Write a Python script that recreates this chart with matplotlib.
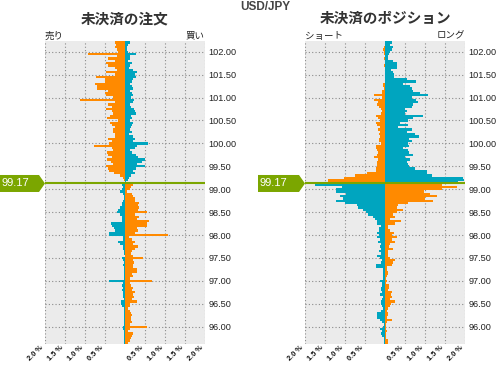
import numpy as np
import matplotlib
matplotlib.use('Agg')
import matplotlib.pyplot as plt
from matplotlib.patches import Polygon
from matplotlib.transforms import blended_transform_factory

# price levels (bin centres), current price line sits between 99.15 and 99.10
prices_above = np.round(np.arange(102.20, 99.149, -0.05), 2)   # 62 bins
prices_below = np.round(np.arange(99.10, 95.649, -0.05), 2)    # 70 bins
price_line = 99.125
price_label = '99.17'

# open orders (%)
orders_above_sell = [0.25, 0.22, 0.25, 0.21, 0.17, 0.92, 0.21, 0.42, 0.25, 0.48,
                     0.42, 0.25, 0.21, 0.48, 0.25, 0.73, 0.50, 0.50, 0.75, 0.71,
                     0.69, 0.42, 0.50, 0.48, 0.30, 1.13, 0.25, 0.42, 0.33, 0.48,
                     0.33, 0.29, 0.38, 0.44, 0.17, 0.38, 0.33, 0.25, 0.31, 0.29,
                     0.25, 0.25, 0.42, 0.33, 0.39, 0.78, 0.33, 0.29, 0.44, 0.42,
                     0.33, 0.44, 0.36, 0.29, 0.48, 0.42, 0.39, 0.28, 0.13, 0.06,
                     0.03, 0.01]
orders_above_buy = [0.13, 0.08, 0.06, 0.06, 0.08, 0.28, 0.13, 0.13, 0.08, 0.17,
                    0.13, 0.11, 0.21, 0.29, 0.25, 0.28, 0.21, 0.17, 0.13, 0.17,
                    0.19, 0.13, 0.17, 0.21, 0.15, 0.23, 0.21, 0.13, 0.15, 0.23,
                    0.25, 0.28, 0.14, 0.17, 0.13, 0.21, 0.17, 0.14, 0.13, 0.17,
                    0.11, 0.21, 0.25, 0.21, 0.57, 0.29, 0.25, 0.13, 0.17, 0.28,
                    0.33, 0.50, 0.42, 0.29, 0.50, 0.28, 0.21, 0.25, 0.15, 0.10,
                    0.08, 0.03]
orders_below_sell = [0.08, 0.06, 0.08, 0.13, 0.06, 0.03, 0.03, 0.04, 0.08, 0.08,
                     0.13, 0.18, 0.21, 0.13, 0.08, 0.08, 0.08, 0.36, 0.33, 0.28,
                     0.25, 0.39, 0.39, 0.04, 0.06, 0.17, 0.13, 0.04, 0.04, 0.03,
                     0.03, 0.01, 0.08, 0.04, 0.03, 0.04, 0.03, 0.03, 0.03, 0.03,
                     0.03, 0.03, 0.39, 0.06, 0.08, 0.04, 0.08, 0.06, 0.04, 0.04,
                     0.02, 0.10, 0.10, 0.08, 0.03, 0.02, 0.02, 0.02, 0.02, 0.03,
                     0.02, 0.02, 0.05, 0.05, 0.02, 0.03, 0.03, 0.03, 0.03, 0.03]
orders_below_buy = [0.19, 0.14, 0.13, 0.04, 0.17, 0.19, 0.25, 0.25, 0.35, 0.33,
                    0.36, 0.33, 0.54, 0.25, 0.36, 0.31, 0.61, 0.54, 0.54, 0.31,
                    0.33, 0.25, 1.07, 0.11, 0.17, 0.25, 0.21, 0.33, 0.25, 0.17,
                    0.15, 0.21, 0.44, 0.21, 0.23, 0.21, 0.21, 0.31, 0.29, 0.17,
                    0.21, 0.13, 0.67, 0.13, 0.14, 0.19, 0.17, 0.25, 0.21, 0.23,
                    0.18, 0.29, 0.13, 0.13, 0.08, 0.13, 0.15, 0.17, 0.15, 0.15,
                    0.17, 0.13, 0.54, 0.13, 0.08, 0.19, 0.18, 0.15, 0.13, 0.07]

# open positions (%)
positions_above_short = [0, 0, 0.03, 0.04, 0.03, 0.03, 0, 0.03, 0, 0,
                         0.03, 0, 0, 0, 0, 0, 0, 0, 0.04, 0.06,
                         0.03, 0.08, 0.08, 0.27, 0.08, 0.28, 0.17, 0.21, 0.14, 0.11,
                         0.08, 0.11, 0.23, 0.17, 0.13, 0.23, 0.21, 0.13, 0.17, 0.13,
                         0.14, 0.13, 0.15, 0.14, 0.11, 0.23, 0.23, 0.21, 0.17, 0.21,
                         0.28, 0.17, 0.19, 0.19, 0.21, 0.23, 0.23, 0.46, 0.75, 1.03,
                         1.42, 1.42]
positions_above_long = [0.18, 0.13, 0.21, 0.17, 0.13, 0.11, 0.08, 0.08, 0.20, 0.31,
                        0.29, 0.29, 0.14, 0.21, 0.23, 0.23, 0.56, 0.78, 0.46, 0.63,
                        0.67, 0.71, 0.88, 1.07, 0.67, 0.78, 0.83, 0.71, 0.67, 0.50,
                        0.56, 0.50, 0.94, 0.69, 0.58, 0.38, 0.58, 0.33, 0.67, 0.54,
                        0.75, 0.86, 0.60, 0.67, 0.58, 0.61, 0.46, 0.58, 0.61, 0.71,
                        0.50, 0.63, 0.54, 0.58, 0.61, 0.75, 1.06, 1.04, 1.17, 1.96,
                        1.98, 1.83]
positions_below_short = [1.75, 1.08, 1.23, 1.23, 0.98, 1.13, 1.04, 1.23, 1.00, 0.71,
                         0.67, 0.54, 0.48, 0.42, 0.31, 0.25, 0.21, 0.19, 0.11, 0.14,
                         0.14, 0.19, 0.14, 0.21, 0.13, 0.17, 0.11, 0.13, 0.11, 0.14,
                         0.11, 0.19, 0.13, 0.08, 0.11, 0.23, 0.23, 0.06, 0.04, 0.04,
                         0.06, 0.04, 0.13, 0.08, 0.08, 0.11, 0.11, 0.08, 0.13, 0.04,
                         0.08, 0.10, 0.10, 0.07, 0.04, 0.10, 0.20, 0.20, 0.20, 0.12,
                         0.08, 0.02, 0.05, 0.12, 0.08, 0.10, 0.08, 0.03, 0.02, 0.02]
positions_below_long = [1.42, 1.79, 1.42, 0.98, 1.13, 1.29, 1.00, 1.21, 0.58, 0.33,
                        0.29, 0.46, 0.29, 0.21, 0.25, 0.13, 0.39, 0.25, 0.08, 0.08,
                        0.13, 0.23, 0.17, 0.29, 0.17, 0.25, 0.13, 0.11, 0.19, 0.08,
                        0.08, 0.08, 0.13, 0.25, 0.19, 0.17, 0.04, 0.06, 0.07, 0.07,
                        0.04, 0.03, 0.04, 0.03, 0.11, 0.11, 0.08, 0.17, 0.14, 0.17,
                        0.13, 0.25, 0.15, 0.13, 0.08, 0.05, 0.07, 0.07, 0.05, 0.17,
                        0.04, 0.03, 0.03, 0.03, 0.05, 0.03, 0.02, 0.03, 0.07, 0.07]

x_ticks = [-2.0, -1.5, -1.0, -0.5, 0.0, 0.5, 1.0, 1.5, 2.0]
x_labels = ['2.0 %', '1.5 %', '1.0 %', '0.5 %', '', '0.5 %', '1.0 %', '1.5 %', '2.0 %']
y_ticks = [96.0, 96.5, 97.0, 97.5, 98.0, 98.5, 99.0, 99.5, 100.0, 100.5, 101.0, 101.5, 102.0]

ORANGE = '#ff8a00'
TEAL = '#00a5bf'
GREEN = '#7ba600'
BG = '#ebebeb'
CJK = ['Noto Sans CJK JP', 'DejaVu Sans']
NUM = ['Liberation Sans', 'DejaVu Sans']

W, H = 497, 365
fig = plt.figure(figsize=(W / 100, H / 100), dpi=100)


def panel(x0, top_left, top_right, bot_left, bot_right, c_top_left, c_top_right,
          title, lab_left, lab_right, tag_x):
    ax = fig.add_axes([x0 / W, (H - 343.9) / H, 160 / W, 302.5 / H])
    ax.set_facecolor(BG)
    ax.barh(prices_above, -np.array(top_left), height=0.05, color=c_top_left, lw=0, zorder=2)
    ax.barh(prices_above, top_right, height=0.05, color=c_top_right, lw=0, zorder=2)
    ax.barh(prices_below, -np.array(bot_left), height=0.05, color=c_top_right, lw=0, zorder=2)
    ax.barh(prices_below, bot_right, height=0.05, color=c_top_left, lw=0, zorder=2)
    ax.set_xlim(-2, 2)
    ax.set_ylim(95.625, 102.225)
    ax.set_xticks(x_ticks)
    ax.set_xticklabels(x_labels, rotation=45, ha='right', va='top',
                       family=NUM, fontsize=5.3, fontweight='bold', color='#111')
    ax.set_yticks(y_ticks)
    ax.set_yticklabels(['%.2f' % v for v in y_ticks], family=NUM, fontsize=6.6, color='#222')
    ax.yaxis.tick_right()
    ax.tick_params(length=0)
    ax.tick_params(axis='y', pad=2.5)
    ax.tick_params(axis='x', pad=0.3)
    for s in ax.spines.values():
        s.set_visible(False)
    ax.grid(True, linestyle=(0, (1, 2)), color='#8a8a8a', lw=0.8, zorder=1)
    ax.set_axisbelow(True)

    # current price
    ax.axhline(price_line, color=GREEN, lw=1.5, zorder=3)
    tr = blended_transform_factory(ax.transAxes, ax.transData)
    h = 8.5 / 45.83
    tip = 6 / 160
    tag = Polygon([(tag_x, price_line + h), (-tip, price_line + h), (0, price_line),
                   (-tip, price_line - h), (tag_x, price_line - h)],
                  closed=True, transform=tr, clip_on=False, color=GREEN, lw=0, zorder=4)
    ax.add_patch(tag)
    ax.text(tag_x + 2 / 160, price_line, price_label, transform=tr, color='white',
            fontsize=8, family=NUM, va='center', ha='left', clip_on=False, zorder=5)

    fig.text((x0 + 80) / W, 1 - 18 / H, title, ha='center', va='center',
             fontsize=10.5, fontweight='bold', family=CJK, color='#333333')
    fig.text(x0 / W, 1 - 36 / H, lab_left, ha='left', va='center',
             fontsize=6.8, family=CJK, color='#222222')
    fig.text((x0 + 160) / W, 1 - 36 / H, lab_right, ha='right', va='center',
             fontsize=6.8, family=CJK, color='#222222')
    return ax


panel(45, orders_above_sell, orders_above_buy, orders_below_sell, orders_below_buy,
      ORANGE, TEAL, '未決済の注文', '売り', '買い', -45 / 160)
panel(305, positions_above_short, positions_above_long, positions_below_short,
      positions_below_long, ORANGE, TEAL, '未決済のポジション', 'ショート', 'ロング', -47 / 160)

fig.text(265 / W, 1 - 1 / H, 'USD/JPY', ha='center', va='top', fontsize=8.5,
         fontweight='bold', family=NUM, color='#444444')

fig.savefig('out.png', dpi=100)
